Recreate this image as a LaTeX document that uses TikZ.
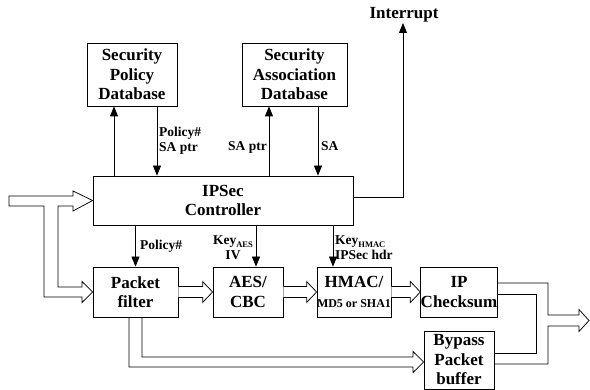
\documentclass[tikz,border=0pt]{standalone}
\usepackage{fontspec}
\setmainfont{Liberation Serif}
\usetikzlibrary{arrows.meta}
\newcommand\boxfont{\fontsize{17}{19.5}\selectfont\bfseries}
\newcommand\labfont{\fontsize{13.5}{14.5}\selectfont\bfseries}
\newcommand\subfont{\fontsize{8.5}{8.5}\selectfont\bfseries}
\begin{document}
\begin{tikzpicture}[x=1pt,y=-1pt,
  block/.style={draw, line width=0.75pt, inner sep=0pt, align=center, font=\boxfont},
  lab/.style={font=\labfont, inner sep=0pt, align=left},
  arr/.style={line width=0.75pt, -{Triangle[width=8pt,length=10pt]}},
  hollow/.style={line width=0.75pt, fill=white, line join=miter}]
\useasboundingbox (0,0) rectangle (590,390);

% blocks
\node[block, minimum width=90pt, minimum height=63pt] (spd) at (132,74.5)
  {Security\\Policy\\Database};
\node[block, minimum width=105pt, minimum height=63pt] (sad) at (294.5,74.5)
  {Security\\Association\\Database};
\node[block, minimum width=260pt, minimum height=49pt] (ctl) at (223,200.5)
  {IPSec\\Controller};
\node[block, minimum width=85pt, minimum height=50pt] (pf) at (135.5,292)
  {Packet\\filter};
\node[block, minimum width=70pt, minimum height=50pt] (aes) at (248,292)
  {AES/\\CBC};
\node[block, minimum width=70pt, minimum height=50pt] (hmac) at (354,292)
  {HMAC/\\{\fontsize{12}{13}\selectfont\bfseries MD5 or SHA1}};
\node[block, minimum width=70pt, minimum height=50pt] (ipc) at (459,292)
  {IP\\Checksum};
\node[block, minimum width=70pt, minimum height=58pt] (byp) at (459,360)
  {Bypass\\Packet\\buffer};

% interrupt output
\node[font=\boxfont, inner sep=0pt] (intlab) at (404,15) {Interrupt};
\coordinate (intr) at (403,23);
\draw[arr] ([yshift=3.5pt]ctl.east) -| (intr);

% control signals to and from the databases
\draw[arr] ([xshift=-18pt]spd.south |- ctl.north) -- ([xshift=-18pt]spd.south);
\draw[arr] ([xshift=25pt]spd.south) -- ([xshift=25pt]spd.south |- ctl.north);
\draw[arr] ([xshift=-25.5pt]sad.south |- ctl.north) -- ([xshift=-25.5pt]sad.south);
\draw[arr] ([xshift=23.5pt]sad.south) -- ([xshift=23.5pt]sad.south |- ctl.north);
\node[lab, anchor=west] at (159,141) {Policy\#\\SA ptr};
\node[lab, anchor=east] at (267,147) {SA ptr};
\node[lab, anchor=west] at (321,146) {SA};

% control signals to the datapath
\draw[arr] (pf.north |- ctl.south) -- (pf.north);
\draw[arr] ([xshift=8pt]aes.north |- ctl.south) -- ([xshift=8pt]aes.north);
\draw[arr] ([xshift=-21pt]hmac.north |- ctl.south) -- ([xshift=-21pt]hmac.north);
\node[lab, anchor=west] at (140,246) {Policy\#};
\node[lab, align=center] at (233,247.5)
  {Key\raisebox{-2.5pt}{\subfont AES}\\IV};
\node[lab, anchor=west] at (335,247.5)
  {Key\raisebox{-2.5pt}{\subfont HMAC}\\IPSec hdr};

% packet input, split to controller and packet filter
\coordinate (src) at (9,201);
\draw[hollow] (9,196) -- (73,196) -- (73,191) -- (ctl.west) -- (73,211)
  -- (73,206) -- (58,206) -- (58,287) -- (82,287) -- (82,281.5)
  -- (pf.west) -- (82,302.5) -- (82,297) -- (44,297) -- (44,206)
  -- (9,206) -- cycle;

% datapath
\foreach \a/\b in {pf/aes, aes/hmac, hmac/ipc}{
  \draw[hollow] ([yshift=5.5pt]\a.east) -- ([yshift=5.5pt,xshift=-10pt]\b.west)
    -- ([yshift=10.5pt,xshift=-10pt]\b.west) -- (\b.west)
    -- ([yshift=-10.5pt,xshift=-10pt]\b.west) -- ([yshift=-5.5pt,xshift=-10pt]\b.west)
    -- ([yshift=-5.5pt]\a.east);
}

% bypass path
\draw[hollow, fill=none] ([xshift=-6.5pt]pf.south) -- (129,367) -- (413,367)
  -- (413,372.5) -- ([yshift=-2pt]byp.west) -- (413,351.5) -- (413,357)
  -- (142,357) -- ([xshift=6.5pt]pf.south);

% merged output
\coordinate (out) at (589,320.5);
\draw[hollow, fill=none] ([yshift=9pt]ipc.east) -- (548,283) -- (548,315)
  -- (579,315) -- (579,309.5) -- (out) -- (579,331.5) -- (579,326)
  -- (548,326) -- (548,364) -- (byp.east |- 0,364);
\draw[hollow, fill=none] ([yshift=-2pt]ipc.east) -- (536,294) -- (536,353)
  -- (byp.east |- 0,353);
\end{tikzpicture}
\end{document}
